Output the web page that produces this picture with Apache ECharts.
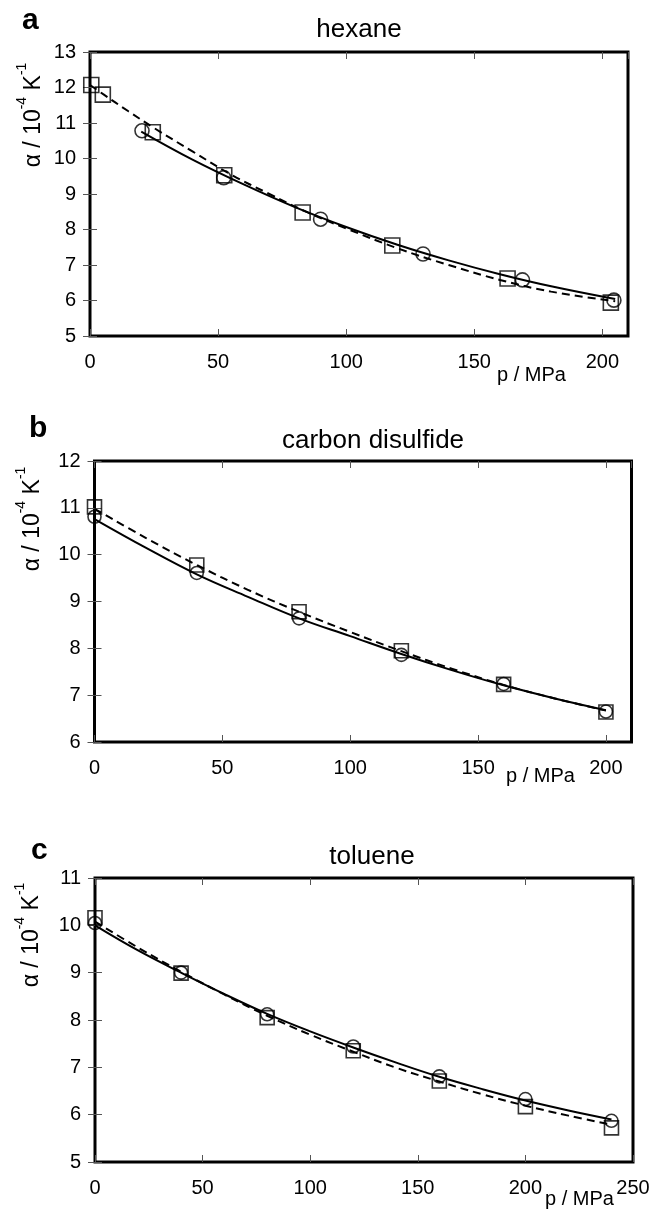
<!DOCTYPE html>
<html><head><meta charset="utf-8">
<script src="https://cdn.jsdelivr.net/npm/echarts@6/dist/echarts.min.js"></script>
<style>html,body{margin:0;padding:0;background:#fff}#c{width:651px;height:1212px}</style>
</head><body><div id="c"></div>
<script>
const F = 'Liberation Sans, Arial, sans-serif';
const panelTitles = ['hexane', 'carbon disulfide', 'toluene'];
const panelLetters = ['a', 'b', 'c'];
const xAxisName = 'p / MPa';
const xMaxes = [210, 210, 250];
const xInterval = 50;
const yMins = [5, 6, 5];
const yMaxes = [13, 12, 11];

// hexane
const hexaneSquares = [[0.5,12.07],[5,11.80],[24.5,10.74],[52.4,9.53],[83,8.48],[118,7.55],[163,6.62],[203.3,5.94]];
const hexaneCircles = [[20.3,10.78],[52.2,9.46],[90,8.29],[130,7.31],[168.8,6.58],[204.5,6.01]];
const hexaneSolid = [[20,10.76],[40,9.97],[60,9.27],[80,8.63],[100,8.07],[120,7.57],[140,7.13],[160,6.74],[180,6.40],[205,6.04]];
const hexaneDashed = [[0,12.07],[5,11.82],[15,11.33],[25,10.86],[40,10.20],[55,9.55],[70,9.00],[85,8.48],[100,8.03],[120,7.47],[140,7.00],[160,6.58],[180,6.25],[205,5.98]];

// carbon disulfide
const cs2Squares = [[0,11.02],[40,9.78],[80,8.78],[120,7.95],[160,7.23],[200,6.64]];
const cs2Circles = [[0,10.81],[40,9.61],[80,8.64],[120,7.86],[160,7.24],[200,6.65]];
const cs2Solid = [[0,10.76],[20,10.15],[40,9.58],[60,9.10],[80,8.64],[100,8.26],[120,7.88],[140,7.53],[160,7.21],[180,6.93],[200,6.68]];
const cs2Dashed = [[0,10.98],[20,10.36],[40,9.78],[60,9.25],[80,8.78],[100,8.35],[120,7.94],[140,7.56],[160,7.22],[180,6.93],[200,6.67]];

// toluene
const tolSquares = [[0,10.16],[40,8.99],[80,8.05],[120,7.35],[160,6.71],[200,6.17],[240,5.72]];
const tolCircles = [[0,10.05],[40,9.00],[80,8.12],[120,7.44],[160,6.81],[200,6.33],[240,5.87]];
const tolSolid = [[0,10.00],[20,9.47],[40,9.00],[60,8.55],[80,8.13],[100,7.76],[120,7.42],[140,7.10],[160,6.80],[180,6.54],[200,6.30],[220,6.09],[240,5.90]];
const tolDashed = [[0,10.08],[20,9.53],[40,9.02],[60,8.54],[80,8.09],[100,7.69],[120,7.33],[140,6.99],[160,6.70],[180,6.43],[200,6.19],[220,5.98],[240,5.79]];

const panels = [
  {squares: hexaneSquares, circles: hexaneCircles, solid: hexaneSolid, dashed: hexaneDashed},
  {squares: cs2Squares, circles: cs2Circles, solid: cs2Solid, dashed: cs2Dashed},
  {squares: tolSquares, circles: tolCircles, solid: tolSolid, dashed: tolDashed}
];

const grids = [
  {left: 90, top: 52, width: 538, height: 284},
  {left: 94.5, top: 461, width: 537, height: 281},
  {left: 95, top: 878, width: 538, height: 284}
];
const titlePos = [[354, 12], [368, 423], [367, 839]];
const yNamePos = [[30, 115], [29, 519], [28, 935]];
const letterPos = [[22, 6], [29, 414], [31, 836]];
const pNamePos = [[497, 375], [506, 776], [545, 1199]];
const symSizes = [[15, 14], [14, 13], [14, 13]];

const option = {
  backgroundColor: '#fff',
  animation: false,
  title: [], grid: [], xAxis: [], yAxis: [], series: [], graphic: []
};

panels.forEach((p, i) => {
  const g = grids[i];
  option.grid.push(Object.assign({show: true, borderWidth: 3, borderColor: '#000', backgroundColor: 'transparent', containLabel: false, outerBoundsMode: 'none'}, g));
  option.title.push({
    text: panelTitles[i], left: titlePos[i][0], top: titlePos[i][1], textAlign: 'center',
    textStyle: {fontFamily: F, fontSize: 26, fontWeight: 'normal', color: '#000'}
  });
  const tick = {show: true, inside: true, length: 7, lineStyle: {color: '#555', width: 1}};
  option.xAxis.push({
    type: 'value', gridIndex: i, min: 0, max: xMaxes[i], interval: xInterval, position: 'bottom',
    axisLine: {show: false}, axisTick: tick, splitLine: {show: false},
    axisLabel: {fontFamily: F, fontSize: 20, color: '#000', margin: 16, showMaxLabel: xMaxes[i] % xInterval === 0}
  });
  option.xAxis.push({
    type: 'value', gridIndex: i, min: 0, max: xMaxes[i], interval: xInterval, position: 'top',
    axisLine: {show: false}, axisTick: tick, splitLine: {show: false}, axisLabel: {show: false}
  });
  option.yAxis.push({
    type: 'value', gridIndex: i, min: yMins[i], max: yMaxes[i], interval: 1, position: 'left',
    axisLine: {show: false}, axisTick: tick, splitLine: {show: false},
    axisLabel: {fontFamily: F, fontSize: 20, color: '#000', margin: 14}
  });
  option.yAxis.push({
    type: 'value', gridIndex: i, min: yMins[i], max: yMaxes[i], interval: 1, position: 'right',
    axisLine: {show: false}, axisTick: tick, splitLine: {show: false}, axisLabel: {show: false}
  });
  const xi = i * 2, yi = i * 2;
  option.series.push({
    type: 'line', xAxisIndex: xi, yAxisIndex: yi, data: p.solid, smooth: 0.4, showSymbol: false, clip: false,
    lineStyle: {color: '#000', width: 2}, silent: true
  });
  option.series.push({
    type: 'line', xAxisIndex: xi, yAxisIndex: yi, data: p.dashed, smooth: 0.4, showSymbol: false, clip: false,
    lineStyle: {color: '#000', width: 2, type: [8, 5]}, silent: true
  });
  option.series.push({
    type: 'scatter', xAxisIndex: xi, yAxisIndex: yi, data: p.squares, symbol: 'rect', symbolSize: symSizes[i][0], clip: false,
    itemStyle: {color: 'transparent', borderColor: '#000', borderWidth: 1.6}
  });
  option.series.push({
    type: 'scatter', xAxisIndex: xi, yAxisIndex: yi, data: p.circles, symbol: 'circle', symbolSize: symSizes[i][1], clip: false,
    itemStyle: {color: 'transparent', borderColor: '#000', borderWidth: 1.6}
  });
  option.graphic.push({
    type: 'text', x: letterPos[i][0], y: letterPos[i][1],
    style: {text: panelLetters[i], fontFamily: F, fontSize: 30, fontWeight: 'bold', fill: '#000', textAlign: 'left', textVerticalAlign: 'top', align: 'left', verticalAlign: 'top'}
  });
  option.graphic.push({
    type: 'text', x: yNamePos[i][0], y: yNamePos[i][1], rotation: Math.PI / 2,
    style: {
      text: '{m|α / 10}{s|-4}{m| K}{s|-1}',
      textAlign: 'center', textVerticalAlign: 'middle', align: 'center', verticalAlign: 'middle',
      fill: '#000',
      rich: {
        m: {fontFamily: F, fontSize: 23, lineHeight: 30, verticalAlign: 'bottom', fill: '#000'},
        s: {fontFamily: F, fontSize: 14, lineHeight: 30, verticalAlign: 'top', fill: '#000'}
      }
    }
  });
  option.graphic.push({
    type: 'text', x: pNamePos[i][0], y: pNamePos[i][1],
    style: {text: xAxisName, fontFamily: F, fontSize: 20, fill: '#000', textAlign: 'left', textVerticalAlign: 'middle', align: 'left', verticalAlign: 'middle'}
  });
});

const chart = echarts.init(document.getElementById('c'), null, {renderer: 'canvas'});
chart.setOption(option);
</script>
</body></html>
